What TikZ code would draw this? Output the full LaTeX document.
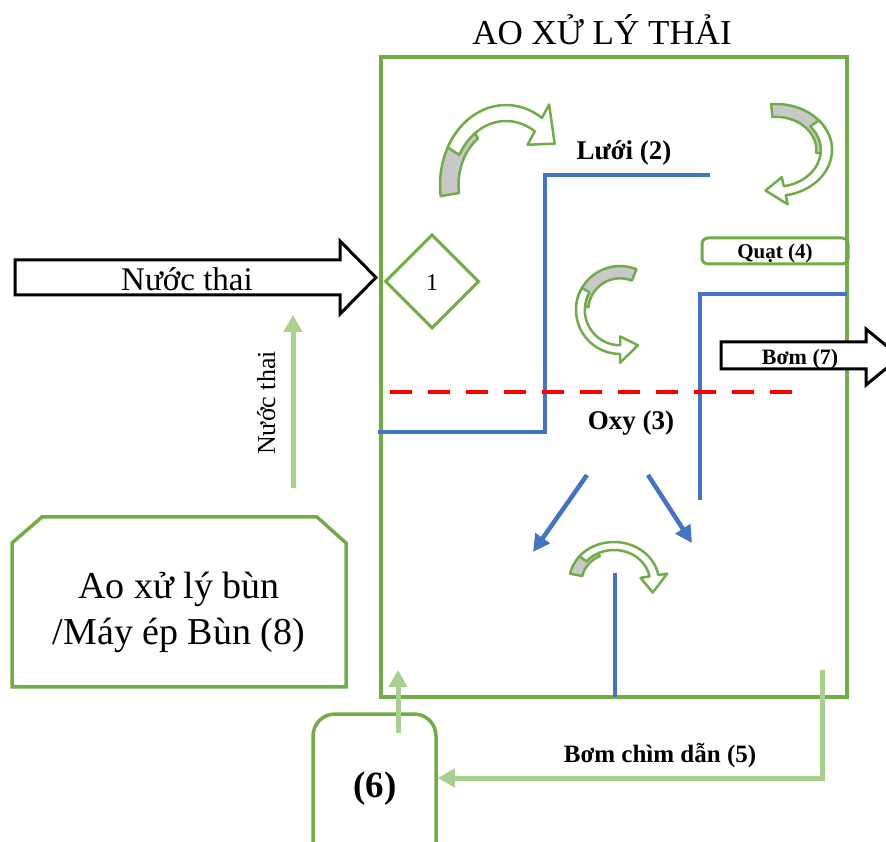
\documentclass[tikz,border=0pt]{standalone}
\usepackage{fontspec}
\setmainfont{Liberation Serif}
\usetikzlibrary{arrows.meta,shapes.geometric}

\definecolor{pondgreen}{HTML}{70AD47}
\definecolor{flowgreen}{HTML}{A9D18E}
\definecolor{wallblue}{HTML}{4472C4}
\definecolor{bandgray}{HTML}{C8C8C8}

% Twisted curved arrow: centre (#1,#2), radii #3/#4, tail angle #5,
% start of the white face #6, end of the grey back #7, head base #8, tip #9
\newcommand\twistarrow[9]{%
  \begin{scope}[shift={(#1,#2)},xscale=#3,yscale=#4]
    \filldraw[twistline,fill=bandgray] (#5:1) arc[start angle=#5,end angle=#7,radius=1]
      -- (#7:0.72) arc[start angle=#7,end angle=#5,radius=0.72] -- cycle;
    \filldraw[twistline,fill=white] (#6:1) arc[start angle=#6,end angle=#8,radius=1]
      -- (#8:1.2) -- (#9:0.9) -- (#8:0.6) -- (#8:0.8)
      arc[start angle=#8,end angle=#6,radius=0.8] -- cycle;
  \end{scope}}

\begin{document}
\begin{tikzpicture}[x=1pt,y=1pt,
  pondline/.style={draw=pondgreen,line width=3.5pt},
  wall/.style={draw=wallblue,line width=4.5pt},
  flow/.style={draw=flowgreen,line width=5pt,-{Triangle[width=18pt,length=17pt]}},
  jet/.style={draw=wallblue,line width=4.5pt,-{Triangle[width=17pt,length=17pt]}},
  blockarrow/.style={draw=black,fill=white,line width=3pt,miter limit=10},
  twistline/.style={draw=pondgreen,line width=2.5pt,line join=round},
  boldlbl/.style={font=\bfseries\fontsize{#1}{#1}\selectfont,inner sep=0pt,anchor=base},
  plainlbl/.style={font=\fontsize{#1}{#1}\selectfont,inner sep=0pt,anchor=base}]

\useasboundingbox (0,0) rectangle (886,841);
\clip (0,0) rectangle (886,841);

% treatment pond
\node[pondline,minimum width=466pt,minimum height=640pt,inner sep=0pt] (pond) at (614,464) {};
\node[plainlbl=35] (title) at (602,796) {AO XỬ LÝ THẢI};

% incoming wastewater
\draw[blockarrow] (15,546) -- (340,546) -- (340,527) -- (376,563.5) -- (340,600) -- (340,581) -- (15,581) -- cycle;
\node[plainlbl=33] (inflow) at (187,550) {Nước thai};

% inlet screen
\node[diamond,draw=pondgreen,line width=3pt,minimum width=94pt,minimum height=94pt,inner sep=0pt] (inlet) at (432,559.5) {};
\node[plainlbl=24] (inletlabel) at (432,550) {1};

% baffles
\draw[wall] (378,409) -- (545,409) -- (545,666) -- (710,666);
\draw[wall] (847,547) -- (700,547) -- (700,341);
\draw[wall] (615,268) -- (615,144);

% aeration level
\draw[red,line width=4.5pt,dash pattern=on 22pt off 16pt] (390,449) -- (800,449);

% circulation arrows
\twistarrow{506}{656}{66}{80}{188}{152}{126}{57}{35}
\twistarrow{776}{691}{56}{46}{95}{40}{-5}{-80}{-102}
\twistarrow{620}{531}{44}{44}{68}{150}{175}{270}{297}
\twistarrow{614}{259}{45}{40}{168}{140}{116}{10}{-17}

% labels inside the pond
\node[boldlbl=27] (screen) at (624,681) {Lưới (2)};
\node[boldlbl=27] (oxy) at (631,411) {Oxy (3)};
\node[draw=pondgreen,line width=3pt,rounded corners=6pt,minimum width=146pt,minimum height=26pt,inner sep=0pt] (fan) at (775,590) {};
\node[boldlbl=21] (fanlabel) at (775,582) {Quạt (4)};

% outgoing pump
\draw[blockarrow] (721,472) -- (866,472) -- (866,456) -- (900,484) -- (866,512) -- (866,499) -- (721,499) -- cycle;
\node[boldlbl=22] (pump) at (800,476) {Bơm (7)};

% oxygen jets
\coordinate (jetLa) at (587,366);
\coordinate (jetLb) at (533,289);
\coordinate (jetRa) at (648,366);
\coordinate (jetRb) at (692,298);
\draw[jet] (jetLa) -- (jetLb);
\draw[jet] (jetRa) -- (jetRb);

% sludge treatment
\draw[pondline] (12,154) -- (12,298) -- (42,324) -- (317,324) -- (346,298) -- (346,154) -- cycle;
\node[plainlbl=38] (sludgeA) at (179,242) {Ao xử lý bùn};
\node[plainlbl=38] (sludgeB) at (179,196) {/Máy ép Bùn (8)};

% return water from sludge
\coordinate (sludgetop) at (293,353);
\coordinate (inflowfoot) at (293,526);
\draw[flow] (sludgetop) -- (inflowfoot);
\node[plainlbl=26,rotate=90] (returnlabel) at (275,438) {Nước thai};

% sump (6)
\node[draw=pondgreen,line width=3.5pt,rounded corners=22pt,minimum width=123pt,minimum height=150pt,inner sep=0pt] (six) at (374.5,52) {};
\node[boldlbl=37] (sixlabel) at (375,44) {(6)};
\coordinate (sixtop) at (398,108);
\coordinate (pondfeed) at (398,171);
\draw[flow] (sixtop) -- (pondfeed);

% submersible pump line (5)
\coordinate (pumpin) at (822,171);
\coordinate (pumpturn) at (822,63);
\draw[flow] (pumpin) |- (six.east |- pumpturn);
\node[boldlbl=25] (pumplabel) at (660,79) {Bơm chìm dẫn (5)};
\end{tikzpicture}
\end{document}
